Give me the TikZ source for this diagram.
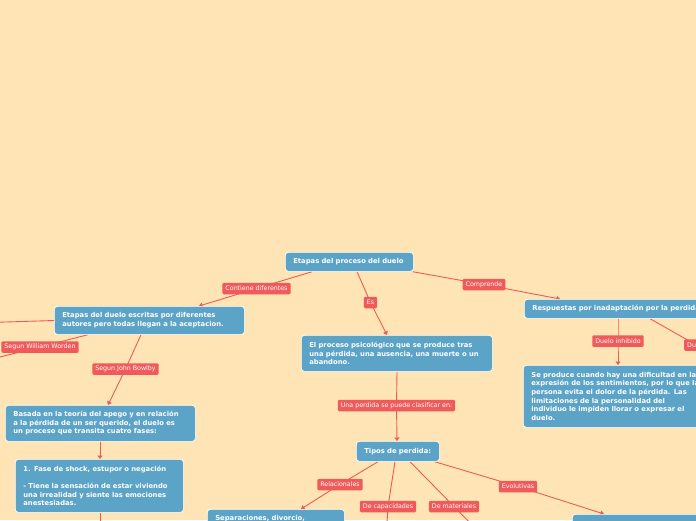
\documentclass[tikz,border=0pt]{standalone}
\usepackage{fontspec}
\setmainfont{DejaVu Sans}
\usetikzlibrary{arrows.meta,calc}
\definecolor{bgpeach}{HTML}{FFE5B5}
\definecolor{boxblue}{HTML}{5BA3C7}
\definecolor{labred}{HTML}{F05A5A}
\definecolor{linered}{HTML}{EE5B55}
\pgfdeclarelayer{back}
\pgfsetlayers{back,main}
\begin{document}
\begin{tikzpicture}[x=1pt,y=-1pt,
 box/.style={draw=white, line width=0.7pt, fill=boxblue, rounded corners=3pt, text=white,
   font=\fontsize{6.8}{8.6}\selectfont\bfseries, align=left, inner xsep=8pt, inner ysep=0pt, anchor=north west},
 lab/.style={fill=labred, text=white, font=\fontsize{6.3}{7}\selectfont, rounded corners=1.2pt,
   inner xsep=3pt, inner ysep=0pt, minimum height=11.5pt},
 conn/.style={draw=linered, line width=0.9pt},
 arr/.style={conn, -{Triangle[width=5pt,length=3.5pt]}}]
\useasboundingbox (0,0) rectangle (696,520);
\begin{pgfonlayer}{back}
\fill[bgpeach] (0,0) rectangle (696,520);
\end{pgfonlayer}

% main boxes
\node[box, text width=112pt, minimum height=19pt] (root) at (285,252) {Etapas del proceso del duelo};
\node[box, text width=174pt, minimum height=28pt] (n2) at (54,306) {Etapas del duelo escritas por diferentes\\autores pero todas llegan a la aceptacion.};
\node[box, text width=175pt, minimum height=36pt] (n3) at (301,335) {El proceso psicológico que se produce tras\\una pérdida, una ausencia, una muerte o un\\abandono.};
\node[box, text width=190pt, minimum height=19pt] (n4) at (524,299) {Respuestas por inadaptación por la perdida};
\node[box, text width=190pt, minimum height=62pt] (n5) at (523,365) {Se produce cuando hay una dificultad en la\\expresión de los sentimientos, por lo que la\\persona evita el dolor de la pérdida. Las\\limitaciones de la personalidad del\\individuo le impiden llorar o expresar el\\duelo.};
\node[box, text width=67pt, minimum height=20pt] (n6) at (356,441) {Tipos de perdida:};
\node[box, text width=174pt, minimum height=36pt] (n7) at (5,405) {Basada en la teoría del apego y en relación\\a la pérdida de un ser querido, el duelo es\\un proceso que transita cuatro fases:};
\node[box, text width=152pt, minimum height=53pt] (n8) at (15,459) {1. Fase de shock, estupor o negación\\[8.6pt]- Tiene la sensación de estar viviendo\\una irrealidad y siente las emociones\\anestesiadas.};
\node[box, text width=121pt, minimum height=18pt] (n9) at (207,509) {Separaciones, divorcio,};
\node[box, text width=140pt, minimum height=20pt] (n10) at (572,514) {};

% labels
\node[lab] (lc) at (256.5,288.5) {Contiene diferentes};
\node[lab] (les) at (370.5,302.5) {Es};
\node[lab] (lcomp) at (484,284.5) {Comprende};
\node[lab] (lww) at (40,347) {Segun William Worden};
\node[lab] (ljb) at (125.5,369) {Segun John Bowlby};
\node[lab] (lup) at (396.5,405.5) {Una perdida se puede clasificar en:};
\node[lab] (ldi) at (618,341) {Duelo inhibido};
\node[lab, anchor=west] (ldu) at (684,345) {Duelo};
\node[lab] (lrel) at (340,484.5) {Relacionales};
\node[lab] (ldc) at (388,506.5) {De capacidades};
\node[lab] (ldm) at (454,506.5) {De materiales};
\node[lab] (lev) at (518,486.5) {Evolutivas};

\coordinate (offww) at (-40,367);
\coordinate (offl) at (-20,322.8);
\coordinate (offdu) at (740,369);
\coordinate (off8) at (100,535);
\coordinate (offdc) at (386,540);
\coordinate (offdm) at (480,533);

% connectors
\begin{pgfonlayer}{back}
\draw[arr] ($(root.south west)+(27,0)$) -- (lc.center) -- ($(n2.north west)+(145,0)$);
\draw[arr] ($(root.south west)+(72,0)$) -- (les.center) -- ($(n3.north west)+(86,0)$);
\draw[arr] ($(root.south east)+(-1,0)$) -- (lcomp.center) -- ($(n4.north west)+(36,0)$);
\draw[arr] ($(n2.south west)+(87,0)$) -- (ljb.center) -- ($(n7.north west)+(103,0)$);
\draw[conn] ($(n2.south west)+(34,0)$) -- (lww.center) -- (offww);
\draw[conn] (offl) -- ($(n2.north west)+(0,14.5)$);
\draw[arr] ($(n3.south west)+(96,0)$) -- (lup.center) -- ($(n6.north west)+(41,0)$);
\draw[arr] ($(n4.south west)+(94,0)$) -- (ldi.center) -- ($(n5.north west)+(95,0)$);
\draw[conn] ($(n4.south west)+(126,0)$) -- (ldu.center) -- (offdu);
\draw[arr] ($(n7.south west)+(95,0)$) -- ($(n8.north west)+(85,0)$);
\draw[conn] ($(n8.south west)+(85,0)$) -- (off8);
\draw[arr] ($(n6.south west)+(22,0)$) -- (lrel.center) -- ($(n9.north west)+(94,0)$);
\draw[conn] ($(n6.south west)+(39,0)$) -- (ldc.center) -- (offdc);
\draw[conn] ($(n6.south west)+(54,0)$) -- (ldm.center) -- (offdm);
\draw[arr] ($(n6.south east)+(-5,0)$) -- (lev.center) -- ($(n10.north west)+(32,0)$);
\end{pgfonlayer}
\end{tikzpicture}
\end{document}
